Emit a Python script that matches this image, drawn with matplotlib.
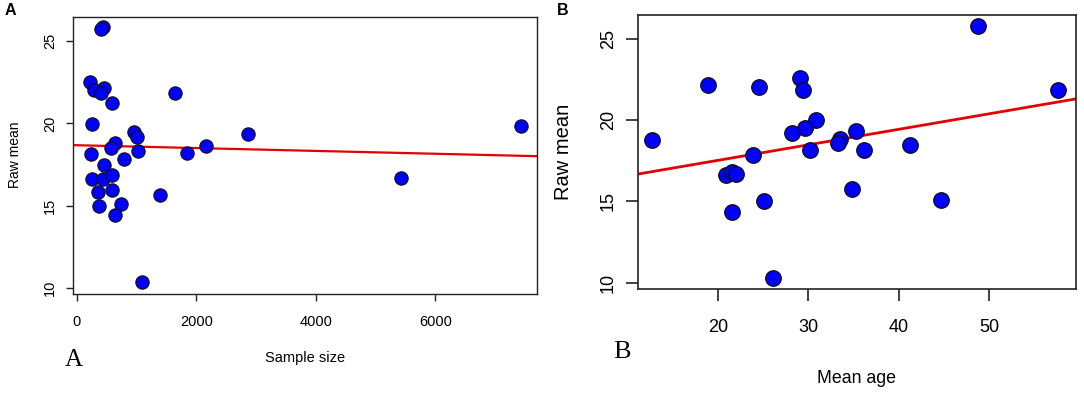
import matplotlib
matplotlib.use("Agg")
import matplotlib.pyplot as plt
import numpy as np

# ---- Panel A: Sample size vs Raw mean ----
sample_size = [436, 397, 218, 285, 453, 408, 592, 1648, 251, 955, 1000, 2866,
               2151, 1849, 1017, 642, 575, 235, 788, 453, 257, 436, 592, 352,
               581, 1391, 363, 737, 631, 1084, 7428, 5416]
raw_mean_a = [25.87, 25.71, 22.53, 22.02, 22.13, 21.82, 21.26, 21.84, 19.98, 19.49,
              19.15, 19.37, 18.60, 18.18, 18.32, 18.79, 18.48, 18.16, 17.85, 17.47,
              16.62, 16.60, 16.88, 15.81, 15.97, 15.67, 15.00, 15.12, 14.45, 10.34,
              19.84, 16.71]
fit_a = (18.675, -0.0000865)   # intercept, slope

# ---- Panel B: Mean age vs Raw mean ----
mean_age = [12.75, 18.9, 24.52, 29.06, 29.44, 48.77, 57.59, 30.87, 29.68, 28.24,
            35.25, 33.53, 33.33, 30.18, 36.2, 41.3, 23.96, 20.92, 21.6, 22.02,
            34.88, 25.08, 44.71, 21.55, 26.14]
raw_mean_b = [18.79, 22.16, 22.08, 22.59, 21.85, 25.78, 21.87, 19.99, 19.50, 19.19,
              19.33, 18.83, 18.58, 18.17, 18.17, 18.48, 17.84, 16.65, 16.81, 16.70,
              15.79, 15.01, 15.08, 14.38, 10.30]
fit_b = (15.62, 0.0956)

xticks_a = [0, 2000, 4000, 6000]
xticks_b = [20, 30, 40, 50]
yticks = [10, 15, 20, 25]

plt.rcParams['font.family'] = ['Liberation Sans', 'DejaVu Sans']

fig = plt.figure(figsize=(10.84, 3.95), dpi=100)
axA = fig.add_axes([0.0676, 0.2565, 0.4281, 0.7013])
axB = fig.add_axes([0.5881, 0.2684, 0.4041, 0.6937])

frame_col = '#222222'

def style(ax, xlim, ylim, xticks, fs, ticklen, pad_x, pad_y, lw):
    ax.set_xlim(*xlim)
    ax.set_ylim(*ylim)
    ax.set_xticks(xticks)
    ax.set_yticks(yticks)
    for s in ax.spines.values():
        s.set_color(frame_col)
        s.set_linewidth(lw)
    ax.tick_params(axis='x', length=ticklen, width=lw, color=frame_col,
                   labelsize=fs, pad=pad_x)
    ax.tick_params(axis='y', length=ticklen, width=lw, color=frame_col,
                   labelsize=fs, pad=pad_y, labelrotation=90)
    for lab in ax.get_yticklabels():
        lab.set_va('center')

# Panel A
xl_a = (-62, 7705)
xs = np.array(xl_a)
axA.plot(xs, fit_a[0] + fit_a[1] * xs, color='#e50000', lw=1.6, zorder=2)
axA.plot(sample_size, raw_mean_a, 'o', ms=9.6, mfc='#0000ff', mec='#111111',
         mew=0.8, zorder=3, clip_on=False)
style(axA, xl_a, (9.65, 26.49), xticks_a, 10.5, 5.2, 10, 6.5, 1.0)
axA.set_ylabel('Raw mean', fontsize=10, labelpad=15.5)
axA.set_xlabel('Sample size', fontsize=10.5, labelpad=16)

# Panel B
xl_b = (11.13, 59.58)
xs = np.array(xl_b)
axB.plot(xs, fit_b[0] + fit_b[1] * xs, color='#e50000', lw=2.0, zorder=2)
axB.plot(mean_age, raw_mean_b, 'o', ms=11.2, mfc='#0000ff', mec='#111111',
         mew=0.9, zorder=3, clip_on=False)
style(axB, xl_b, (9.61, 26.49), xticks_b, 13, 8.3, 13, 6.5, 1.2)
axB.set_ylabel('Raw mean', fontsize=14.5, labelpad=19.5)
axB.set_xlabel('Mean age', fontsize=12.8, labelpad=25)

# Panel letters
fig.text(5 / 1084, 1 - 3 / 395, 'A', fontsize=11.5, fontweight='bold',
         ha='left', va='top')
fig.text(557 / 1084, 1 - 3 / 395, 'B', fontsize=11.5, fontweight='bold',
         ha='left', va='top')
fig.text(65 / 1084, 1 - 366 / 395, 'A', fontsize=18, family='Liberation Serif',
         ha='left', va='baseline')
fig.text(613 / 1084, 1 - 358.5 / 395, 'B', fontsize=19, family='Liberation Serif',
         ha='left', va='baseline')

fig.savefig('out.png', dpi=100)
